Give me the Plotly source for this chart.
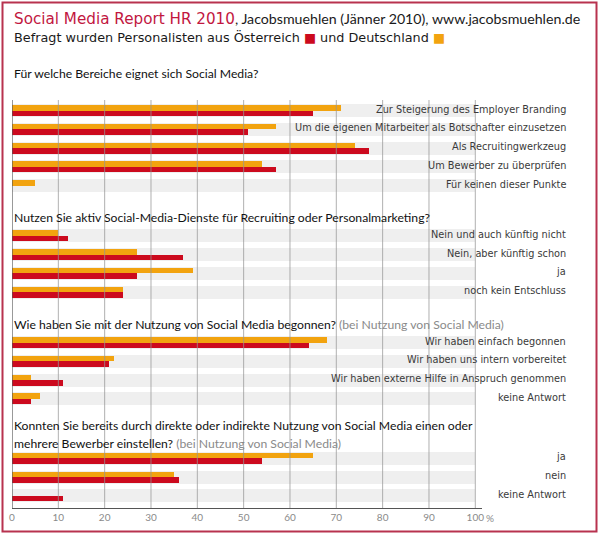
import plotly.graph_objects as go

# ---------------- data ----------------
q1_title = "Für welche Bereiche eignet sich Social Media?"
q1_cats = ["Zur Steigerung des Employer Branding",
           "Um die eigenen Mitarbeiter als Botschafter einzusetzen",
           "Als Recruitingwerkzeug",
           "Um Bewerber zu überprüfen",
           "Für keinen dieser Punkte"]
q1_de = [71, 57, 74, 54, 5]
q1_at = [65, 51, 77, 57, 0]

q2_title = "Nutzen Sie aktiv Social-Media-Dienste für Recruiting oder Personalmarketing?"
q2_cats = ["Nein und auch künftig nicht", "Nein, aber künftig schon", "ja", "noch kein Entschluss"]
q2_de = [10, 27, 39, 24]
q2_at = [12, 37, 27, 24]

q3_title = "Wie haben Sie mit der Nutzung von Social Media begonnen?"
q3_note = "(bei Nutzung von Social Media)"
q3_cats = ["Wir haben einfach begonnen", "Wir haben uns intern vorbereitet",
           "Wir haben externe Hilfe in Anspruch genommen", "keine Antwort"]
q3_de = [68, 22, 4, 6]
q3_at = [64, 21, 11, 4]

q4_title1 = "Konnten Sie bereits durch direkte oder indirekte Nutzung von Social Media einen oder"
q4_title2 = "mehrere Bewerber einstellen?"
q4_note = "(bei Nutzung von Social Media)"
q4_cats = ["ja", "nein", "keine Antwort"]
q4_de = [65, 35, 0]
q4_at = [54, 36, 11]

tick_vals = [0, 10, 20, 30, 40, 50, 60, 70, 80, 90, 100]
tick_text = ["0", "10", "20", "30", "40", "50", "60", "70", "80", "90", "100"]

# ---------------- styles / layout ----------------
RED = "#cc0a1e"
ORANGE = "#f2a30f"
BAND = "#efefef"
GRID = "rgba(150,150,150,0.75)"
TITLE_RED = "#c2173f"
BORDER = "#b8324f"
LABEL_COL = "#3a3a3a"
TITLE_FONT = "Lato"
LABEL_FONT = "DejaVu Sans"

W, H = 600, 534
ML, MR, MT, MB = 12, 118, 0, 26
PW = W - ML - MR
PH = H - MT - MB
PX_PER_UNIT = 4.633
PITCH = 18.75
BAR_H = 5.5
BAND_H = 13

sections = [
    (q1_cats, q1_de, q1_at, 110.5),
    (q2_cats, q2_de, q2_at, 235.8),
    (q3_cats, q3_de, q3_at, 342.5),
    (q4_cats, q4_de, q4_at, 458.3),
]

fig = go.Figure()
annotations = []
shapes = []

all_y, all_de, all_at = [], [], []
for cats, de, at, y0 in sections:
    for i, c in enumerate(cats):
        yc = y0 + i * PITCH
        all_y.append(yc)
        all_de.append(de[i])
        all_at.append(at[i])
        annotations.append(dict(
            x=(567.7 - ML) / PW, xref="paper", xanchor="right",
            y=yc - 1.5, yref="y", yanchor="middle",
            text=c, showarrow=False,
            font=dict(family=LABEL_FONT, size=9.75, color=LABEL_COL)))

# background bands
fig.add_trace(go.Bar(x=[100] * len(all_y), y=all_y, orientation="h",
                     width=BAND_H, marker=dict(color=BAND, line=dict(width=0)),
                     hoverinfo="skip", showlegend=False))
# Deutschland (orange, top)
fig.add_trace(go.Bar(x=all_de, y=[v - BAR_H / 2 for v in all_y], orientation="h",
                     width=BAR_H, marker=dict(color=ORANGE, line=dict(width=0)),
                     name="Deutschland", showlegend=False))
# Österreich (red, bottom)
fig.add_trace(go.Bar(x=all_at, y=[v + BAR_H / 2 for v in all_y], orientation="h",
                     width=BAR_H, marker=dict(color=RED, line=dict(width=0)),
                     name="Österreich", showlegend=False))

# gridlines above bars
for v in tick_vals[1:]:
    shapes.append(dict(type="line", xref="x", yref="y", x0=v, x1=v, y0=100, y1=PH,
                       line=dict(color=GRID, width=1), layer="above"))
# left axis line
shapes.append(dict(type="line", xref="x", yref="y", x0=0, x1=0, y0=100, y1=PH,
                   line=dict(color="#555555", width=1.2), layer="above"))


def px2paper_x(px):
    return (px - ML) / PW


def px2paper_y(py):
    return (PH + MT - py) / PH


# border
shapes.append(dict(type="rect", xref="paper", yref="paper",
                   x0=px2paper_x(2.5), x1=px2paper_x(596.5),
                   y0=px2paper_y(531.5), y1=px2paper_y(2.5),
                   line=dict(color=BORDER, width=2), fillcolor="rgba(0,0,0,0)", layer="above"))

# header
annotations.append(dict(
    x=px2paper_x(12), xref="paper", xanchor="left", y=19.3, yref="y", yanchor="middle",
    showarrow=False,
    text=(f"<span style='font-family:DejaVu Sans;color:{TITLE_RED};font-size:15.2px'>Social Media Report HR 2010</span>"
          f"<span style='font-family:{TITLE_FONT};color:#1a1a1a;font-size:14.2px'>, Jacobsmuehlen (Jänner 2010), www.jacobsmuehlen.de</span>"),
    font=dict(family=TITLE_FONT, size=14, color="#1a1a1a")))
annotations.append(dict(
    x=px2paper_x(12), xref="paper", xanchor="left", y=37.3, yref="y", yanchor="middle",
    showarrow=False,
    text=(f"Befragt wurden Personalisten aus Österreich <span style='color:{RED}'>■</span> "
          f"und Deutschland <span style='color:{ORANGE}'>■</span>"),
    font=dict(family="DejaVu Sans", size=12.8, color="#1a1a1a")))


# section titles
def title(text, y):
    annotations.append(dict(
        x=px2paper_x(12), xref="paper", xanchor="left", y=y, yref="y", yanchor="middle",
        showarrow=False, text=text,
        font=dict(family=TITLE_FONT, size=12.2, color="#111111")))


title(q1_title, 73.3)
title(q2_title, 217.7)
title(f"{q3_title} <span style='color:#8a8a8a'>{q3_note}</span>", 324.3)
title(q4_title1, 425.7)
title(f"{q4_title2} <span style='color:#8a8a8a'>{q4_note}</span>", 443.3)

# percent sign after the 100 tick
annotations.append(dict(x=100, xref="x", xanchor="left", xshift=9,
                        y=px2paper_y(518.3), yref="paper", yanchor="middle",
                        showarrow=False, text="%",
                        font=dict(family=TITLE_FONT, size=10, color="#8a8a8a")))

fig.update_layout(
    width=W, height=H,
    margin=dict(l=ML, r=MR, t=MT, b=MB, pad=0),
    paper_bgcolor="white", plot_bgcolor="white",
    barmode="overlay", bargap=0,
    showlegend=False,
    xaxis=dict(range=[0, PW / PX_PER_UNIT], showgrid=False, zeroline=False,
               showline=True, linecolor="#555555", linewidth=1.2,
               tickvals=tick_vals, ticktext=tick_text, ticks="",
               tickfont=dict(family=TITLE_FONT, size=10, color="#8a8a8a"),
               fixedrange=True),
    yaxis=dict(range=[PH, 0], showgrid=False, zeroline=False, showline=False,
               showticklabels=False, ticks="", fixedrange=True),
    shapes=shapes,
    annotations=annotations,
)

fig.write_html("out.html", config={"displayModeBar": False},
               post_script="document.body.style.margin='0';document.body.style.padding='0';")
